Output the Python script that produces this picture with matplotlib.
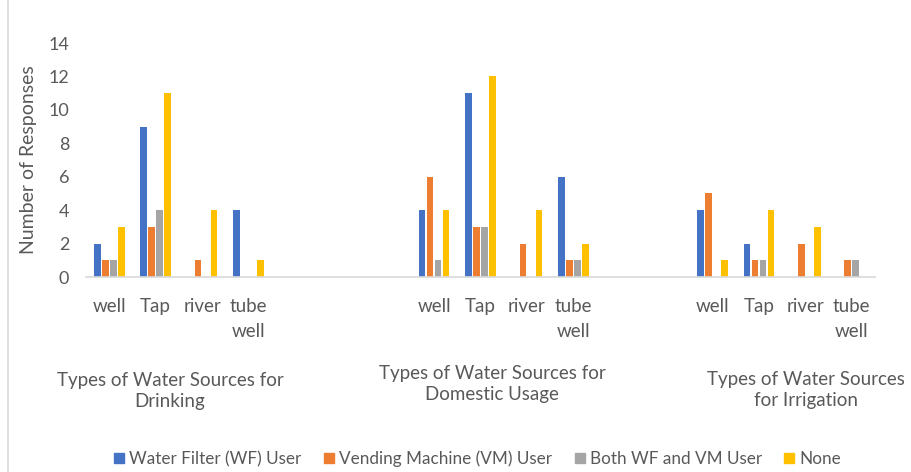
import numpy as np
import matplotlib.pyplot as plt
from matplotlib.lines import Line2D

# survey counts
sources = ['well', 'Tap', 'river', 'tube\nwell']
groups = ['Types of Water Sources for\nDrinking',
          'Types of Water Sources for\nDomestic Usage',
          'Types of Water Sources\nfor Irrigation']
series = ['Water Filter (WF) User', 'Vending Machine (VM) User',
          'Both WF and VM User', 'None']

wf_user = [2, 9, 0, 4,   4, 11, 0, 6,   4, 2, 0, 0]
vm_user = [1, 3, 1, 0,   6, 3, 2, 1,    5, 1, 2, 1]
both_user = [1, 4, 0, 0, 1, 3, 0, 1,    0, 1, 0, 1]
none_user = [3, 11, 4, 1, 4, 12, 4, 2,  1, 4, 3, 0]

colors = ['#4472C4', '#ED7D31', '#A5A5A5', '#FFC000']
text_col = '#595959'

plt.rcParams['font.family'] = ['Lato', 'DejaVu Sans']

# category slots on the axis: blanks between the three groups, as in the Excel sheet
slot_start = [0, 7, 13]
x = np.array([s + i for s in slot_start for i in range(len(sources))])
labels = [''] * 17
for s in slot_start:
    for i, name in enumerate(sources):
        labels[s + i] = name

fig = plt.figure(figsize=(9.11, 4.72), dpi=100)
ax = fig.add_axes([86 / 911, 1 - 277 / 472, 789 / 911, 234 / 472])

step = 0.172
width = 0.145
for k, vals in enumerate([wf_user, vm_user, both_user, none_user]):
    ax.bar(x + (k - 1.5) * step, vals, width, color=colors[k], label=series[k])

ax.set_xlim(-0.5, 16.5)
ax.set_ylim(0, 14)
ax.set_yticks(range(0, 15, 2))
ax.set_xticks(range(17))
ax.set_xticklabels(labels)
ax.tick_params(axis='x', length=0, pad=15, labelsize=13.5, labelcolor=text_col)
ax.tick_params(axis='y', length=0, pad=12, labelsize=13, labelcolor=text_col)
for t in ax.get_xticklabels():
    t.set_linespacing(1.55)

for side in ['top', 'right', 'left']:
    ax.spines[side].set_visible(False)
ax.spines['bottom'].set_color('#D9D9D9')
ax.spines['bottom'].set_linewidth(1.2)

ax.set_ylabel('Number of Responses', fontsize=14, color=text_col)
ax.yaxis.set_label_coords(-49 / 789, 0.5)

# group captions under the category labels
group_pos = [(170, 391), (492, 384), (806, 390)]
for (px, py), g in zip(group_pos, groups):
    fig.text(px / 911, 1 - py / 472, g, ha='center', va='center',
             fontsize=13.5, color=text_col, linespacing=1.3)

handles = [Line2D([], [], marker='s', linestyle='none', markersize=7,
                  markerfacecolor=c, markeredgecolor=c) for c in colors]
fig.legend(handles, series, loc='center', bbox_to_anchor=(476 / 911, 1 - 459 / 472),
           ncol=4, frameon=False, fontsize=12.3, labelcolor=text_col,
           handletextpad=0.1, columnspacing=1.1, handlelength=1.0)

# chart area border on the left
fig.add_artist(Line2D([8 / 911, 8 / 911], [0, 1], color='#D9D9D9', linewidth=1.2))

fig.savefig('out.png', dpi=100)
